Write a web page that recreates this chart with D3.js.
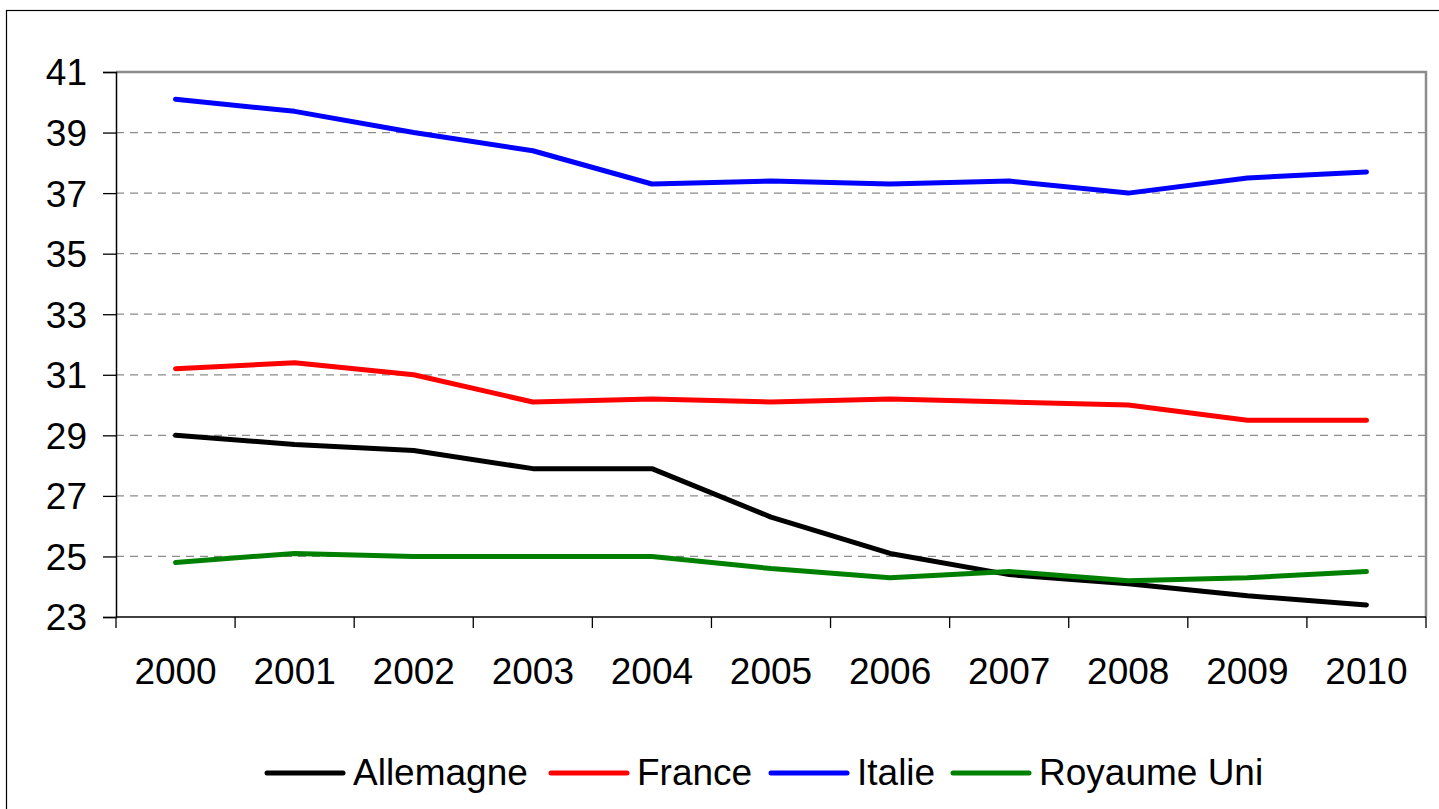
<!DOCTYPE html>
<html><head><meta charset="utf-8">
<script src="https://cdn.jsdelivr.net/npm/d3@7"></script>
<style>html,body{margin:0;padding:0;background:#fff;overflow:hidden}</style>
</head><body>
<svg id="c" width="1439" height="809"></svg>
<script>
const years = ["2000","2001","2002","2003","2004","2005","2006","2007","2008","2009","2010"];
const allemagne = [29.0,28.7,28.5,27.9,27.9,26.3,25.1,24.4,24.1,23.7,23.4];
const france = [31.2,31.4,31.0,30.1,30.2,30.1,30.2,30.1,30.0,29.5,29.5];
const italie = [40.1,39.7,39.0,38.4,37.3,37.4,37.3,37.4,37.0,37.5,37.7];
const royaumeUni = [24.8,25.1,25.0,25.0,25.0,24.6,24.3,24.5,24.2,24.3,24.5];
const seriesNames = ["Allemagne","France","Italie","Royaume Uni"];
const seriesColors = ["#000000","#ff0000","#0000ff","#008000"];
const yTicks = [23,25,27,29,31,33,35,37,39,41];

const series = [allemagne, france, italie, royaumeUni];
const svg = d3.select("#c");
const font = "'Liberation Sans', Arial, sans-serif";

// outer frame
svg.append("rect").attr("x",6.5).attr("y",10.5).attr("width",1500).attr("height",900)
  .attr("fill","none").attr("stroke","#000").attr("stroke-width",1.2);

const L=116, R=1426, T=72, B=617;
const x = d3.scaleBand().domain(years).range([L,R]);
const y = d3.scaleLinear().domain([23,41]).range([B,T]);

// grid
svg.append("g").selectAll("line").data(yTicks.filter(d=>d>23 && d<41)).join("line")
  .attr("x1",L).attr("x2",R).attr("y1",d=>y(d)).attr("y2",d=>y(d))
  .attr("stroke","#8c8c8c").attr("stroke-width",1.2).attr("stroke-dasharray","8,6");

// plot border top/right gray
svg.append("path").attr("d",`M${L},${T}H${R}V${B}`).attr("fill","none")
  .attr("stroke","#8c8c8c").attr("stroke-width",2.5);

// y axis
const ya = svg.append("g").attr("transform",`translate(${L},0)`)
  .call(d3.axisLeft(y).tickValues(yTicks).tickSize(13).tickPadding(16).tickFormat(d3.format("d")));
ya.select(".domain").attr("stroke","#000").attr("stroke-width",1.5);
ya.selectAll(".tick line").attr("stroke","#000").attr("stroke-width",1.3);
ya.selectAll("text").attr("font-family",font).attr("font-size",37).attr("fill","#000").attr("dy","0.35em");

// x axis
const xa = svg.append("g").attr("transform",`translate(0,${B})`)
  .call(d3.axisBottom(x).tickSize(0).tickPadding(0));
xa.select(".domain").attr("d",`M${L},0H${R}`).attr("stroke","#000").attr("stroke-width",1.5);
xa.selectAll("text").attr("font-family",font).attr("font-size",37).attr("fill","#000").attr("y",67).attr("dy",0);
const edges = years.map(d=>x(d)).concat([x(years[years.length-1])+x.bandwidth()]);
xa.append("g").selectAll("line").data(edges).join("line")
  .attr("x1",d=>d).attr("x2",d=>d).attr("y1",0).attr("y2",11).attr("stroke","#000").attr("stroke-width",1.3);

// lines
const line = d3.line().x((d,i)=>x(years[i])+x.bandwidth()/2).y(d=>y(d));
series.forEach((s,i)=>{
  svg.append("path").datum(s).attr("d",line).attr("fill","none")
    .attr("stroke",seriesColors[i]).attr("stroke-width",5).attr("stroke-linecap","round").attr("stroke-linejoin","round");
});

// legend
const legendX = [267,551,771,953];
const lg = svg.append("g");
seriesNames.forEach((n,i)=>{
  lg.append("line").attr("x1",legendX[i]).attr("x2",legendX[i]+76).attr("y1",773).attr("y2",773)
    .attr("stroke",seriesColors[i]).attr("stroke-width",5).attr("stroke-linecap","round");
  lg.append("text").attr("x",legendX[i]+86).attr("y",785).text(n)
    .attr("font-family",font).attr("font-size",37).attr("fill","#000");
});
</script>
</body></html>
